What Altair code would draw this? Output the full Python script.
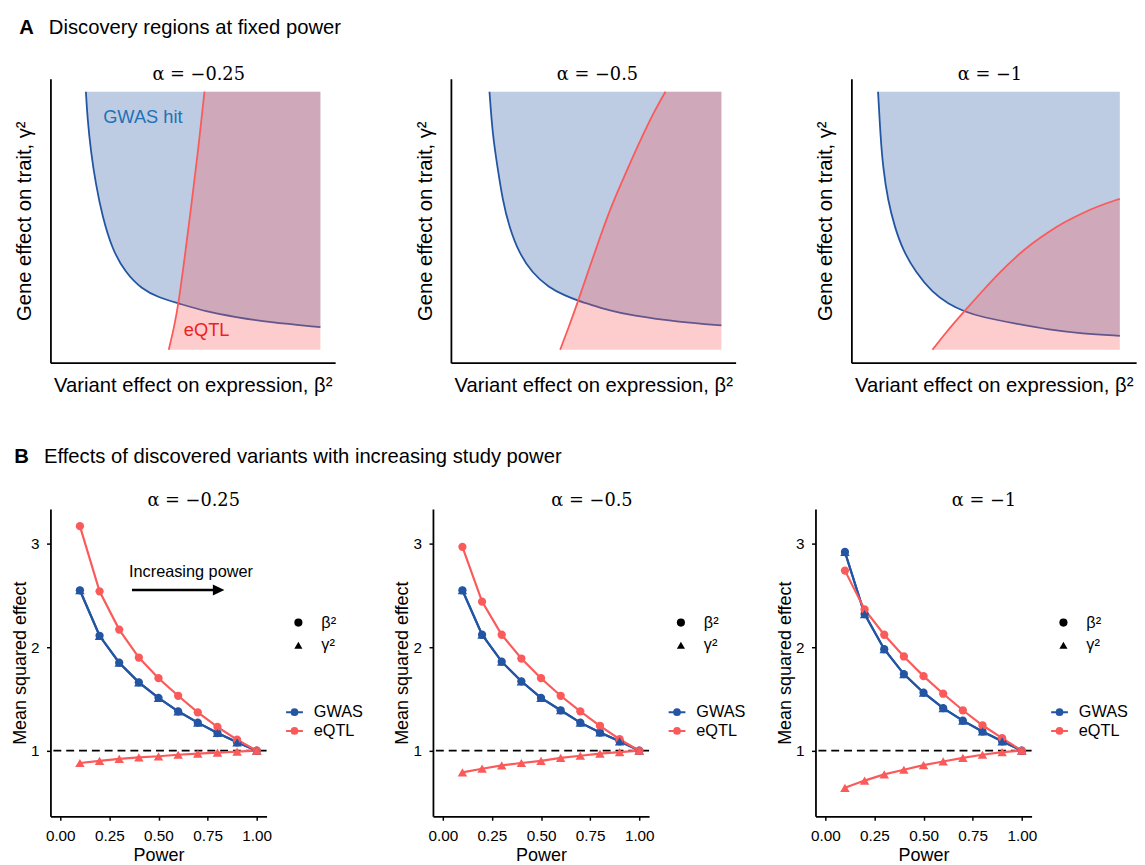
import altair as alt
import pandas as pd

# ---------------- Panel A: discovery-region boundaries ----------------
# unit scale 0..1 on both (unlabelled) axes
a_titles = ["α = −0.25", "α = −0.5", "α = −1"]

gwas_x_a1 = [0.087, 0.093, 0.106, 0.125, 0.151, 0.189, 0.240, 0.303, 0.367, 0.445, 0.557, 0.664, 0.792, 0.993]
gwas_y_a1 = [1.000, 0.898, 0.770, 0.643, 0.515, 0.388, 0.299, 0.235, 0.203, 0.180, 0.146, 0.127, 0.107, 0.088]
eqtl_x_a1 = [0.407, 0.428, 0.445, 0.471, 0.495, 0.519, 0.545]
eqtl_y_a1 = [0.000, 0.088, 0.180, 0.375, 0.566, 0.758, 1.000]

gwas_x_a2 = [0.099, 0.111, 0.130, 0.150, 0.175, 0.213, 0.264, 0.328, 0.391, 0.442, 0.493, 0.557, 0.646, 0.836, 0.995]
gwas_y_a2 = [1.000, 0.834, 0.707, 0.579, 0.477, 0.375, 0.298, 0.241, 0.210, 0.190, 0.174, 0.154, 0.133, 0.107, 0.095]
eqtl_x_a2 = [0.372, 0.403, 0.442, 0.485, 0.529, 0.569, 0.607, 0.646, 0.686, 0.735, 0.779]
eqtl_y_a2 = [0.000, 0.082, 0.190, 0.318, 0.445, 0.554, 0.643, 0.732, 0.821, 0.923, 1.000]

gwas_x_a3 = [0.053, 0.062, 0.072, 0.091, 0.117, 0.148, 0.199, 0.263, 0.326, 0.387, 0.453, 0.587, 0.714, 0.841, 0.987]
gwas_y_a3 = [1.000, 0.834, 0.707, 0.579, 0.477, 0.388, 0.299, 0.222, 0.177, 0.148, 0.127, 0.101, 0.078, 0.063, 0.054]
eqtl_x_a3 = [0.263, 0.314, 0.387, 0.460, 0.523, 0.587, 0.650, 0.714, 0.777, 0.841, 0.904, 0.987]
eqtl_y_a3 = [0.000, 0.066, 0.150, 0.232, 0.300, 0.362, 0.414, 0.459, 0.497, 0.529, 0.557, 0.585]

region_right = [0.993, 0.995, 0.987]

# ---------------- Panel B: mean squared effects vs power ----------------
power = [0.1, 0.2, 0.3, 0.4, 0.5, 0.6, 0.7, 0.8, 0.9, 1.0]

gwas_beta2_b1 = [2.55, 2.11, 1.85, 1.66, 1.51, 1.38, 1.27, 1.17, 1.08, 1.00]
gwas_gamma2_b1 = [2.55, 2.11, 1.85, 1.66, 1.51, 1.38, 1.27, 1.17, 1.08, 1.00]
eqtl_beta2_b1 = [3.17, 2.54, 2.17, 1.90, 1.70, 1.53, 1.37, 1.23, 1.105, 1.00]
eqtl_gamma2_b1 = [0.88, 0.90, 0.92, 0.935, 0.945, 0.96, 0.97, 0.98, 0.99, 1.00]

gwas_beta2_b2 = [2.55, 2.12, 1.86, 1.67, 1.51, 1.39, 1.27, 1.175, 1.09, 1.00]
gwas_gamma2_b2 = [2.55, 2.12, 1.86, 1.67, 1.51, 1.39, 1.27, 1.175, 1.09, 1.00]
eqtl_beta2_b2 = [2.97, 2.44, 2.12, 1.89, 1.70, 1.53, 1.38, 1.24, 1.11, 1.00]
eqtl_gamma2_b2 = [0.79, 0.825, 0.857, 0.88, 0.90, 0.93, 0.95, 0.97, 0.985, 1.00]

gwas_beta2_b3 = [2.92, 2.32, 1.98, 1.74, 1.56, 1.41, 1.29, 1.185, 1.09, 1.00]
gwas_gamma2_b3 = [2.92, 2.32, 1.98, 1.74, 1.56, 1.41, 1.29, 1.185, 1.09, 1.00]
eqtl_beta2_b3 = [2.74, 2.365, 2.12, 1.91, 1.72, 1.55, 1.39, 1.245, 1.12, 1.00]
eqtl_gamma2_b3 = [0.64, 0.71, 0.77, 0.815, 0.86, 0.895, 0.93, 0.96, 0.985, 1.00]

x_ticks = [0, 0.25, 0.5, 0.75, 1.0]
y_ticks = [1, 2, 3]
studies = ["GWAS", "eQTL"]
effects = ["β²", "γ²"]

# ---------------- styling ----------------
SANS = "Liberation Sans"
SERIF = "DejaVu Serif"
BLUE = "#2355A3"
RED = "#FA5A5A"
TOP_W, TOP_H = 288.5, 287.7
BOT_W, BOT_H = 219, 311.3
LEG_PATH = ("M-1,0H1M-0.34,0A0.34,0.34,0,1,0,0.34,0A0.34,0.34,0,1,0,-0.34,0Z"
            "M-0.18,0A0.18,0.18,0,1,0,0.18,0A0.18,0.18,0,1,0,-0.18,0Z"
            "M-0.05,0A0.05,0.05,0,1,0,0.05,0A0.05,0.05,0,1,0,-0.05,0Z")
ARROW_HEAD = "M1,0L-1,-0.94L-1,0.94Z"


def txt(text, x, y, size, weight="normal", align="left", baseline="alphabetic",
        font=SANS, color="black"):
    return alt.Chart(pd.DataFrame({"k": [0]})).mark_text(
        text=text, font=font, fontSize=size, fontWeight=weight, align=align,
        baseline=baseline, color=color
    ).encode(x=alt.value(x), y=alt.value(y))


def anchor(x, y):
    # invisible 1px layout anchor that pins the row's bounding box
    return alt.Chart(pd.DataFrame({"k": [0]})).mark_point(
        shape="square", size=1, filled=True, color="white", opacity=1
    ).encode(x=alt.value(x), y=alt.value(y))


def top_panel(gx, gy, ex, ey, xr, title, title_cx, first):
    xs = alt.Scale(domain=[-0.05, 1.05], nice=False, zero=False)
    ys = alt.Scale(domain=[-0.05, 1.05], nice=False, zero=False)
    xax = alt.Axis(title="Variant effect on expression, β²", labels=False, ticks=False,
                   grid=False, domainColor="black", domainWidth=1.8, titleFont=SANS,
                   titleFontSize=20.5, titleFontWeight="normal", titleColor="black",
                   titlePadding=13.6)
    yax = alt.Axis(title="Gene effect on trait, γ²", labels=False, ticks=False,
                   grid=False, domainColor="black", domainWidth=1.8, titleFont=SANS,
                   titleFontSize=20.5, titleFontWeight="normal", titleColor="black",
                   titlePadding=16)
    X = alt.X("x:Q", scale=xs, axis=xax)
    Y = alt.Y("y:Q", scale=ys, axis=yax)
    g = pd.DataFrame({"x": gx, "y": gy, "lim": 1.0})
    el = pd.DataFrame({"x": ex, "y": ey})
    if ey[-1] >= 1.0:
        ax = list(ex) + [ex[-1], ex[-1], xr]
        ay = list(ey) + [1.0, 1.0, 1.0]
    else:
        ax, ay = list(ex), list(ey)
    ea = pd.DataFrame({"x": ax, "y": ay, "lim": 0.0})

    layers = [
        alt.Chart(g).mark_area(color=BLUE, opacity=0.3, interpolate="basis").encode(
            x=X, y=Y, y2=alt.Y2("lim:Q")),
        alt.Chart(g).mark_line(color=BLUE, strokeWidth=1.8, interpolate="basis").encode(x=X, y=Y),
        alt.Chart(ea).mark_area(color=RED, opacity=0.3, interpolate="basis").encode(
            x=X, y=Y, y2=alt.Y2("lim:Q")),
        alt.Chart(el).mark_line(color=RED, strokeWidth=1.8, interpolate="basis").encode(x=X, y=Y),
        txt(title, title_cx, 1.5, 18, align="center", font=SERIF),
    ]
    if first:
        lab = pd.DataFrame({"x": [0.1536, 0.4655], "y": [0.879, 0.053],
                            "t": ["GWAS hit", "eQTL"], "c": ["#2171B5", "#F01E1E"]})
        layers.append(
            alt.Chart(lab).mark_text(font=SANS, fontSize=18.5, align="left", baseline="alphabetic").encode(
                x=X, y=Y, text="t:N", color=alt.Color("c:N", scale=None)))
        layers += [
            txt("A", -31.7, -45, 20.5, weight="bold"),
            txt("Discovery regions at fixed power", -1.6, -45, 20.5),
            anchor(-37.2, -64.8),
            anchor(-37.2, 346.2),
        ]
    return alt.layer(*layers).properties(width=TOP_W, height=TOP_H)


def bottom_panel(gb, gg, eb, eg, title, title_cx, first):
    xs = alt.Scale(domain=[-0.05, 1.05], nice=False, zero=False)
    ys = alt.Scale(domain=[0.365, 3.335], nice=False, zero=False)
    common = dict(grid=False, domainColor="black", domainWidth=1.8, tickColor="black",
                  tickWidth=1.5, tickSize=4, labelFont=SANS, labelFontSize=15.5,
                  labelColor="black", titleFont=SANS, titleFontSize=18.2,
                  titleFontWeight="normal", titleColor="black", labelFlush=False)
    xax = alt.Axis(title="Power", values=x_ticks, format=".2f", labelPadding=8.2,
                   titlePadding=3.3, **common)
    yax = alt.Axis(title="Mean squared effect", values=y_ticks, format="d", labelPadding=7.5,
                   titlePadding=1.5, **common)
    X = alt.X("power:Q", scale=xs, axis=xax)
    Y = alt.Y("value:Q", scale=ys, axis=yax)

    rows = []
    for study, effect, vals in [("GWAS", "β²", gb), ("GWAS", "γ²", gg),
                                ("eQTL", "β²", eb), ("eQTL", "γ²", eg)]:
        for p, v in zip(power, vals):
            rows.append({"power": p, "value": v, "study": study, "effect": effect})
    df = pd.DataFrame(rows)
    df_b = df[df["effect"] == "β²"]
    df_g = df[df["effect"] == "γ²"]

    cscale = alt.Scale(domain=studies, range=[BLUE, RED])
    sscale = alt.Scale(domain=effects, range=["circle", "triangle-up"])
    color_leg = alt.Legend(orient="none", legendX=237.8, legendY=196.3, title=None,
                           labelFont=SANS, labelFontSize=16.5, labelColor="black",
                           symbolType=LEG_PATH, symbolSize=289, symbolStrokeWidth=2,
                           labelOffset=10, rowPadding=1, padding=0, offset=0)
    shape_leg = alt.Legend(orient="none", legendX=243, legendY=106.8, title=None,
                           labelFont=SANS, labelFontSize=16.5, labelColor="black",
                           symbolSize=68, symbolFillColor="black", symbolStrokeColor="black",
                           symbolStrokeWidth=0, symbolOpacity=1, labelOffset=15,
                           rowPadding=6, padding=0, offset=0)

    def pts(d, size):
        return alt.Chart(d).mark_point(filled=True, opacity=1, size=size).encode(
            x=X, y=Y,
            shape=alt.Shape("effect:N", scale=sscale, legend=shape_leg),
            fill=alt.Fill("study:N", scale=cscale, legend=None))

    layers = [
        alt.Chart(pd.DataFrame({"value": [1.0]})).mark_rule(
            color="black", strokeWidth=1.6, strokeDash=[8, 5]).encode(y=Y),
        alt.Chart(df).mark_line(strokeWidth=2.2).encode(
            x=X, y=Y, color=alt.Color("study:N", scale=cscale, legend=color_leg),
            detail="effect:N"),
        pts(df_b, 70),
        pts(df_g, 92),
        txt(title, title_cx, -3.5, 18, align="center", font=SERIF),
    ]
    if first:
        arrow = pd.DataFrame({"power": [0.365], "power2": [0.80], "value": [2.553]})
        head = pd.DataFrame({"power": [0.806], "value": [2.553]})
        note = pd.DataFrame({"power": [0.35], "value": [2.682], "t": ["Increasing power"]})
        layers += [
            alt.Chart(arrow).mark_rule(color="black", strokeWidth=2.6).encode(
                x=X, x2=alt.X2("power2:Q"), y=Y),
            alt.Chart(head).mark_point(shape=ARROW_HEAD, filled=True, size=137,
                                       color="black", opacity=1).encode(x=X, y=Y),
            alt.Chart(note).mark_text(font=SANS, fontSize=16.5, align="left",
                                      baseline="alphabetic", color="black").encode(
                x=X, y=Y, text="t:N"),
            txt("B", -36.75, -46.5, 20.5, weight="bold"),
            txt("Effects of discovered variants with increasing study power", -6.55, -46.5, 20.5),
            anchor(-42.25, -67.7),
        ]
    return alt.layer(*layers).properties(width=BOT_W, height=BOT_H)


tops = [
    top_panel(gwas_x_a1, gwas_y_a1, eqtl_x_a1, eqtl_y_a1, region_right[0], a_titles[0], 150.2, True),
    top_panel(gwas_x_a2, gwas_y_a2, eqtl_x_a2, eqtl_y_a2, region_right[1], a_titles[1], 148.5, False),
    top_panel(gwas_x_a3, gwas_y_a3, eqtl_x_a3, eqtl_y_a3, region_right[2], a_titles[2], 140.4, False),
]
bots = [
    bottom_panel(gwas_beta2_b1, gwas_gamma2_b1, eqtl_beta2_b1, eqtl_gamma2_b1, a_titles[0], 145.15, True),
    bottom_panel(gwas_beta2_b2, gwas_gamma2_b2, eqtl_beta2_b2, eqtl_gamma2_b2, a_titles[1], 161.15, False),
    bottom_panel(gwas_beta2_b3, gwas_gamma2_b3, eqtl_beta2_b3, eqtl_gamma2_b3, a_titles[2], 170.75, False),
]

top_row = alt.hconcat(*tops, spacing=116.8, bounds="flush")
bot_row = alt.hconcat(*bots, spacing=168.6, bounds="flush").resolve_scale(
    color="independent", fill="independent", shape="independent")

chart = alt.vconcat(top_row, bot_row, spacing=20, bounds="full").properties(
    padding={"left": 0, "top": 0, "right": 0, "bottom": 0}
).configure_view(stroke=None)

chart.save("out.html", embed_options={"renderer": "svg", "actions": False})
